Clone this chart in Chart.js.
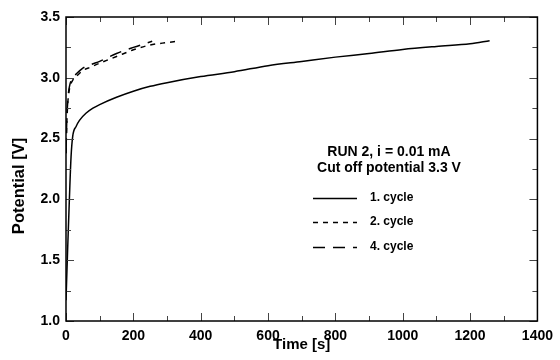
<!DOCTYPE html>
<html>
<head>
<meta charset="utf-8">
<script src="https://cdn.jsdelivr.net/npm/chart.js@4/dist/chart.umd.min.js"></script>
<style>
  html, body { margin: 0; padding: 0; background: #fff; }
  #c { display: block; }
</style>
</head>
<body>
<canvas id="c" width="560" height="360"></canvas>
<script>
// ---- data ----
const cycle1Time = [0, 5, 10, 15, 20, 30, 40, 60, 80, 100, 150, 200, 250, 300, 400, 500, 600, 700, 800, 900, 1000, 1100, 1200, 1258];
const cycle1Pot  = [1.17, 1.6, 2.0, 2.35, 2.52, 2.6, 2.65, 2.71, 2.75, 2.78, 2.84, 2.89, 2.93, 2.96, 3.01, 3.05, 3.10, 3.135, 3.17, 3.20, 3.233, 3.258, 3.28, 3.305];

const cycle2Time = [0, 2, 5, 8, 12, 20, 30, 50, 75, 100, 150, 200, 250, 300, 329];
const cycle2Pot  = [2.38, 2.6, 2.78, 2.87, 2.93, 2.98, 3.01, 3.06, 3.09, 3.12, 3.175, 3.23, 3.27, 3.29, 3.30];

const cycle4Time = [0, 2, 5, 8, 12, 20, 30, 50, 75, 100, 150, 200, 256];
const cycle4Pot  = [2.38, 2.62, 2.8, 2.89, 2.95, 3.0, 3.03, 3.08, 3.11, 3.135, 3.20, 3.25, 3.30];

const seriesLabels = ['1. cycle', '2. cycle', '4. cycle'];
const annotationLines = ['RUN 2, i = 0.01 mA', 'Cut off potential 3.3 V'];
const xTitle = 'Time [s]';
const yTitle = 'Potential [V]';
const xTickValues = [0, 200, 400, 600, 800, 1000, 1200, 1400];
const yTickValues = [1.0, 1.5, 2.0, 2.5, 3.0, 3.5];

// ---- styles ----
const FONT = '"Liberation Sans", Arial, Helvetica, sans-serif';
const dashes = [[], [5, 5], [12, 8]];

function pts(xs, ys) { return xs.map((x, i) => ({ x: x, y: ys[i] })); }

const seriesData = [
  pts(cycle1Time, cycle1Pot),
  pts(cycle2Time, cycle2Pot),
  pts(cycle4Time, cycle4Pot)
];

const framePlugin = {
  id: 'frameTicks',
  afterDatasetsDraw(chart) {
    const ctx = chart.ctx;
    const a = chart.chartArea;
    const xs = chart.scales.x, ys = chart.scales.y;
    ctx.save();
    // inward ticks
    ctx.strokeStyle = '#444';
    ctx.lineWidth = 1;
    for (let v = 0; v <= 1400; v += 100) {
      const px = Math.round(xs.getPixelForValue(v)) + 0.5;
      const len = (v % 200 === 0) ? 8 : 5;
      ctx.beginPath();
      ctx.moveTo(px, a.bottom); ctx.lineTo(px, a.bottom - len);
      ctx.moveTo(px, a.top); ctx.lineTo(px, a.top + len);
      ctx.stroke();
    }
    for (let k = 0; k <= 10; k++) {
      const v = 1 + k * 0.25;
      const py = Math.round(ys.getPixelForValue(v)) + 0.5;
      const len = (k % 2 === 0) ? 8 : 5;
      ctx.beginPath();
      ctx.moveTo(a.left, py); ctx.lineTo(a.left + len, py);
      ctx.moveTo(a.right, py); ctx.lineTo(a.right - len, py);
      ctx.stroke();
    }
    // frame
    ctx.strokeStyle = '#000';
    ctx.lineWidth = 1.5;
    ctx.strokeRect(a.left, a.top, a.right - a.left, a.bottom - a.top);

    // y axis title (sits a bit below the axis centre in the reference)
    ctx.fillStyle = '#000';
    ctx.save();
    ctx.translate(24, 186);
    ctx.rotate(-Math.PI / 2);
    ctx.textAlign = 'center';
    ctx.textBaseline = 'alphabetic';
    ctx.font = 'bold 16.5px ' + FONT;
    ctx.fillText(yTitle, 0, 0);
    ctx.restore();

    // annotation + legend
    ctx.textAlign = 'center';
    ctx.textBaseline = 'middle';
    ctx.font = 'bold 14px ' + FONT;
    ctx.fillText(annotationLines[0], 389, 152);
    ctx.fillText(annotationLines[1], 389, 168);

    const rowY = [198, 222, 247];
    ctx.font = 'bold 12px ' + FONT;
    ctx.textAlign = 'left';
    for (let i = 0; i < seriesLabels.length; i++) {
      ctx.beginPath();
      ctx.setLineDash(dashes[i]);
      ctx.lineWidth = 1.5;
      ctx.strokeStyle = '#000';
      ctx.moveTo(313, rowY[i] + 0.5);
      ctx.lineTo(357, rowY[i] + 0.5);
      ctx.stroke();
      ctx.setLineDash([]);
      ctx.fillText(seriesLabels[i], 370, rowY[i]);
    }
    ctx.restore();
  }
};

new Chart(document.getElementById('c'), {
  type: 'scatter',
  data: {
    datasets: seriesData.map((d, i) => ({
      label: seriesLabels[i],
      data: d,
      showLine: true,
      borderColor: '#000',
      backgroundColor: '#000',
      borderWidth: 1.5,
      borderDash: dashes[i],
      pointRadius: 0,
      cubicInterpolationMode: 'monotone',
      fill: false
    }))
  },
  options: {
    responsive: false,
    animation: false,
    devicePixelRatio: 1,
    layout: { padding: { top: 17, right: 17, left: 0, bottom: 0 } },
    plugins: {
      legend: { display: false },
      tooltip: { enabled: false }
    },
    scales: {
      x: {
        type: 'linear',
        min: 0, max: 1400,
        afterBuildTicks: s => { s.ticks = xTickValues.map(v => ({ value: v })); },
        ticks: {
          color: '#000',
          font: { family: FONT, size: 14, weight: 'bold' },
          padding: 7,
          maxRotation: 0,
          callback: v => String(v)
        },
        grid: { display: false, drawTicks: false },
        border: { display: false },
        title: {
          display: true, text: xTitle, color: '#000',
          font: { family: FONT, size: 15, weight: 'bold' },
          padding: { top: 0, bottom: 6 }
        },
        afterFit: s => { s.height = 39; }
      },
      y: {
        type: 'linear',
        min: 1, max: 3.5,
        afterBuildTicks: s => { s.ticks = yTickValues.map(v => ({ value: v })); },
        ticks: {
          color: '#000',
          font: { family: FONT, size: 14, weight: 'bold' },
          padding: 6,
          callback: v => Number(v).toFixed(1)
        },
        grid: { display: false, drawTicks: false },
        border: { display: false },
        title: { display: false },
        afterFit: s => { s.width = 66; }
      }
    }
  },
  plugins: [framePlugin]
});
</script>
</body>
</html>
